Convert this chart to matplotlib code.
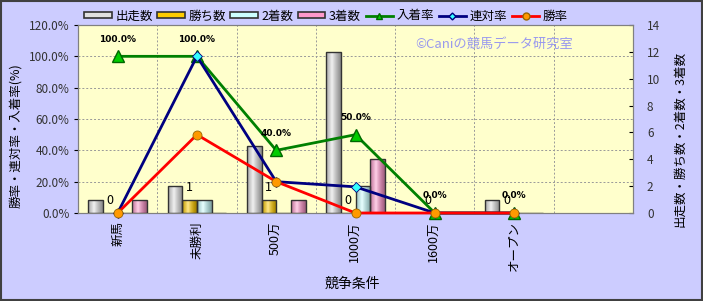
import matplotlib
matplotlib.use("Agg")
import matplotlib.pyplot as plt
import numpy as np
from matplotlib.patches import Rectangle
from matplotlib.lines import Line2D
from matplotlib.colors import to_rgb

plt.rcParams['font.family'] = ['Noto Sans CJK JP', 'DejaVu Sans']

categories = ['新馬', '未勝利', '500万', '1000万', '1600万', 'オープン']
starts = [1, 2, 5, 12, 0, 1]
wins = [0, 1, 1, 0, 0, 0]
seconds = [0, 1, 0, 2, 0, 0]
thirds = [1, 0, 1, 4, 0, 0]
place_rate = [100.0, 100.0, 40.0, 50.0, 0.0, 0.0]
rentai_rate = [0.0, 100.0, 20.0, 16.7, 0.0, 0.0]
win_rate = [0.0, 50.0, 20.0, 0.0, 0.0, 0.0]

pct_ticks = [0, 20, 40, 60, 80, 100, 120]
cnt_ticks = [0, 2, 4, 6, 8, 10, 12, 14]

bg = '#CCCCFF'
fig = plt.figure(figsize=(7.03, 3.01), dpi=100, facecolor=bg)
fig.patches.append(Rectangle((0.001, 0.002), 0.997, 0.995, transform=fig.transFigure,
                             fill=False, edgecolor='#404040', linewidth=1.5))

rect = [78/703, 1-213/301, (633-78)/703, (213-25)/301]
ax = fig.add_axes(rect)
ax.set_facecolor('#FFFFCC')
x = np.arange(len(categories))
ax.set_xlim(-0.5, 6.5)
ax.set_ylim(0, 120)
ax.set_yticks(pct_ticks)
ax.set_yticklabels([f'{v:.1f}%' for v in pct_ticks], fontsize=8.5, color='#333333')
ax.set_xticks(x)
ax.set_xticklabels(categories, rotation=90, fontsize=9, va='top')
ax.tick_params(axis='x', length=0, pad=6)
ax.tick_params(axis='y', length=3, direction='out', pad=3)
for v in pct_ticks[1:-1]:
    ax.axhline(v, color='#999999', linestyle=(0, (2, 2)), linewidth=0.7, zorder=0)
for b in np.arange(0.5, 6.5, 1.0):
    ax.axvline(b, color='#999999', linestyle=(0, (2, 2)), linewidth=0.7, zorder=0)
for s in ax.spines.values():
    s.set_color('#808080')
ax.set_ylabel('勝率・連対率・入着率(%)', fontsize=9)
ax.yaxis.set_label_coords((22 - 78) / 555, (213 - 136) / 188)
ax.set_xlabel('競争条件', fontsize=10)
ax.xaxis.set_label_coords((352 - 78) / 555, -(277 - 213) / 188)

# bars (count axis)
axb = ax.twinx()
axb.set_ylim(0, 14)
axb.set_yticks(cnt_ticks)
axb.set_yticklabels([str(v) for v in cnt_ticks], fontsize=8.5, color='#333333')
axb.tick_params(axis='y', length=3, direction='in', pad=10)
axb.set_ylabel('出走数・勝ち数・2着数・3着数', fontsize=9)
axb.yaxis.set_label_coords((673 - 78) / 555, (213 - 139) / 188)
for s in axb.spines.values():
    s.set_color('#808080')

w = 0.185
series = [(starts, '#E0E0E0', '出走数'), (wins, '#FFCC00', '勝ち数'),
          (seconds, '#CCFFFF', '2着数'), (thirds, '#FF99CC', '3着数')]

def shade(axis, bars, color):
    base = np.array(to_rgb(color))
    t = np.linspace(0, 1, 32)
    light = 1 - np.clip(np.abs(t - 0.4) / 0.6, 0, 1)
    grad = []
    for lv in light:
        c = base * (0.62 + 0.38 * lv) + (1 - base) * 0.55 * lv ** 2
        grad.append(np.clip(c, 0, 1))
    img = np.array(grad)[None, :, :]
    for p in bars:
        h = p.get_height()
        if h <= 0:
            continue
        x0 = p.get_x()
        im = axis.imshow(img, extent=(x0, x0 + p.get_width(), 0, h), aspect='auto',
                         zorder=2, interpolation='bilinear')
        im.set_clip_path(p)
    axis.set_xlim(-0.5, 6.5)
    axis.set_ylim(0, 14)

handles = []
for i, (vals, col, lab) in enumerate(series):
    bars = axb.bar(x + (i - 1.5) * w, vals, width=w, color=col, edgecolor='#333333',
                   linewidth=1.0, zorder=3)
    for p in bars:
        p.set_facecolor('none')
    bars_bg = axb.bar(x + (i - 1.5) * w, vals, width=w, color=col, linewidth=0, zorder=1.5)
    shade(axb, bars_bg, col)
    handles.append(Rectangle((0, 0), 1, 1, facecolor=col, edgecolor='#333333', linewidth=1.2))

for xi, v in zip(x, wins):
    axb.annotate(str(v), (xi - 0.5 * w, v), xytext=(0, 4), textcoords='offset points',
                 ha='center', va='bottom', fontsize=9, zorder=6)

# lines (percent axis)
axl = ax.twinx()
axl.set_ylim(0, 120)
axl.set_xlim(-0.5, 6.5)
axl.set_yticks([])
for s in axl.spines.values():
    s.set_visible(False)
l1, = axl.plot(x, place_rate, color='#008000', linewidth=2, marker='^', markersize=8,
               markerfacecolor='#00CC00', markeredgecolor='#006600', zorder=4, clip_on=False)
l2, = axl.plot(x, rentai_rate, color='#000080', linewidth=2, marker='D', markersize=5,
               markerfacecolor='#33FFFF', markeredgecolor='#000080', markeredgewidth=0.6,
               zorder=5, clip_on=False)
l3, = axl.plot(x, win_rate, color='#FF0000', linewidth=2, marker='o', markersize=6.5,
               markerfacecolor='#FF9900', markeredgecolor='#996600', markeredgewidth=0.6,
               zorder=6, clip_on=False)
for xi, v in zip(x, place_rate):
    axl.annotate(f'{v:.1f}%', (xi, v), xytext=(0, 9), textcoords='offset points',
                 ha='center', va='bottom', fontsize=6.5, fontweight='bold',
                 family='DejaVu Sans', zorder=7)

axl.text(0.75, 0.895, '©Caniの競馬データ研究室', transform=axl.transAxes, ha='center',
         va='center', fontsize=9.5, color='#9999EE', zorder=7)

handles += [Line2D([], [], color='#008000', lw=2, marker='^', markersize=5,
                   markerfacecolor='#00CC00', markeredgecolor='#006600'),
            Line2D([], [], color='#000080', lw=2, marker='D', markersize=3.5,
                   markerfacecolor='#33FFFF', markeredgecolor='#000080'),
            Line2D([], [], color='#FF0000', lw=2, marker='o', markersize=5,
                   markerfacecolor='#FF9900', markeredgecolor='#996600')]
labels = ['出走数', '勝ち数', '2着数', '3着数', '入着率', '連対率', '勝率']
fig.legend(handles, labels, loc='center', bbox_to_anchor=(326/703, 1-16/301), ncol=7,
           frameon=False, fontsize=9, handlelength=2.2, handleheight=0.45,
           handletextpad=0.3, columnspacing=0.35)

fig.savefig('out.png', dpi=100, facecolor=bg)
